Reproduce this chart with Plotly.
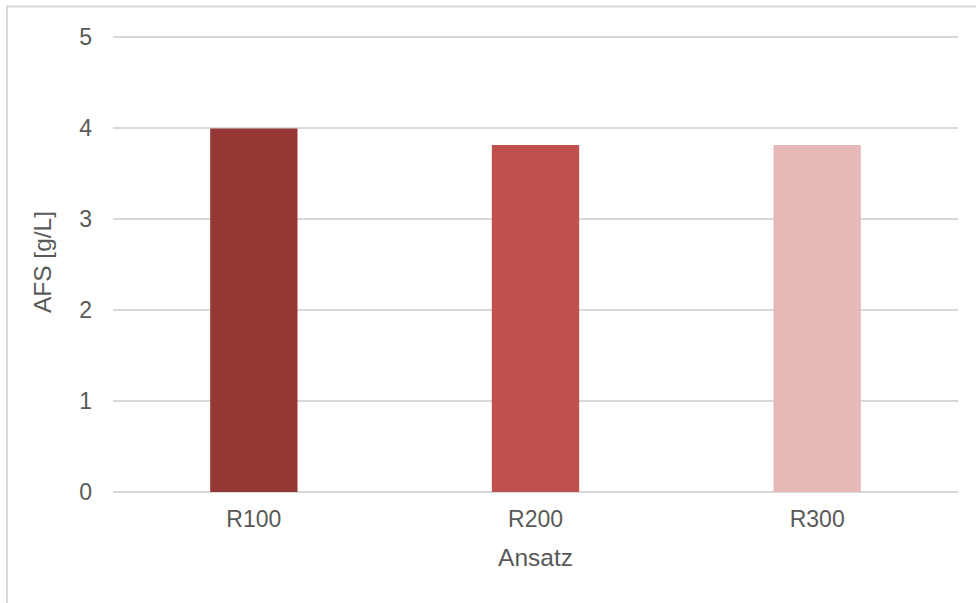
import plotly.graph_objects as go

categories = ["R100", "R200", "R300"]
values = [3.99, 3.81, 3.81]
bar_colors = ["#953735", "#C0504D", "#E6B9B8"]
y_ticks = [0, 1, 2, 3, 4, 5]

W, H = 976, 603
YMAX = 5.05
L, R, B = 113, 18, 110.5
T = 37 - (YMAX - 5) * (H - 37 - B) / 5
pw = W - L - R
ph = H - T - B

fig = go.Figure(go.Bar(x=categories, y=values, marker=dict(color=bar_colors, line=dict(width=0)),
                       width=0.31))

fig.update_layout(
    width=W, height=H,
    margin=dict(l=L, r=R, t=T, b=B, pad=0),
    paper_bgcolor="white", plot_bgcolor="white",
    font=dict(family="Liberation Sans, Arial", color="#595959", size=23),
    showlegend=False,
    xaxis=dict(title=dict(text="Ansatz", font=dict(size=24.5), standoff=17),
               showgrid=False, showline=False, ticks="", ticklabelstandoff=11,
               range=[-0.5, 2.5]),
    yaxis=dict(title=dict(text="AFS [g/L]", font=dict(size=24.5), standoff=20),
               range=[0, YMAX], tickvals=y_ticks, showgrid=True, gridcolor="#D9D9D9",
               gridwidth=1.5, zeroline=True, zerolinecolor="#D9D9D9", zerolinewidth=1.5,
               showline=False, ticks="", ticklabelstandoff=20),
    shapes=[dict(type="rect", xref="paper", yref="paper",
                 x0=(7 - L) / pw, x1=(W + 10 - L) / pw,
                 y0=-(H + 10 - T - ph) / ph, y1=(H - 7 - B) / ph,
                 line=dict(color="#D9D9D9", width=2), layer="below")],
)

fig.write_html("out.html", config={"displayModeBar": False},
               post_script="document.body.style.margin='0';")
